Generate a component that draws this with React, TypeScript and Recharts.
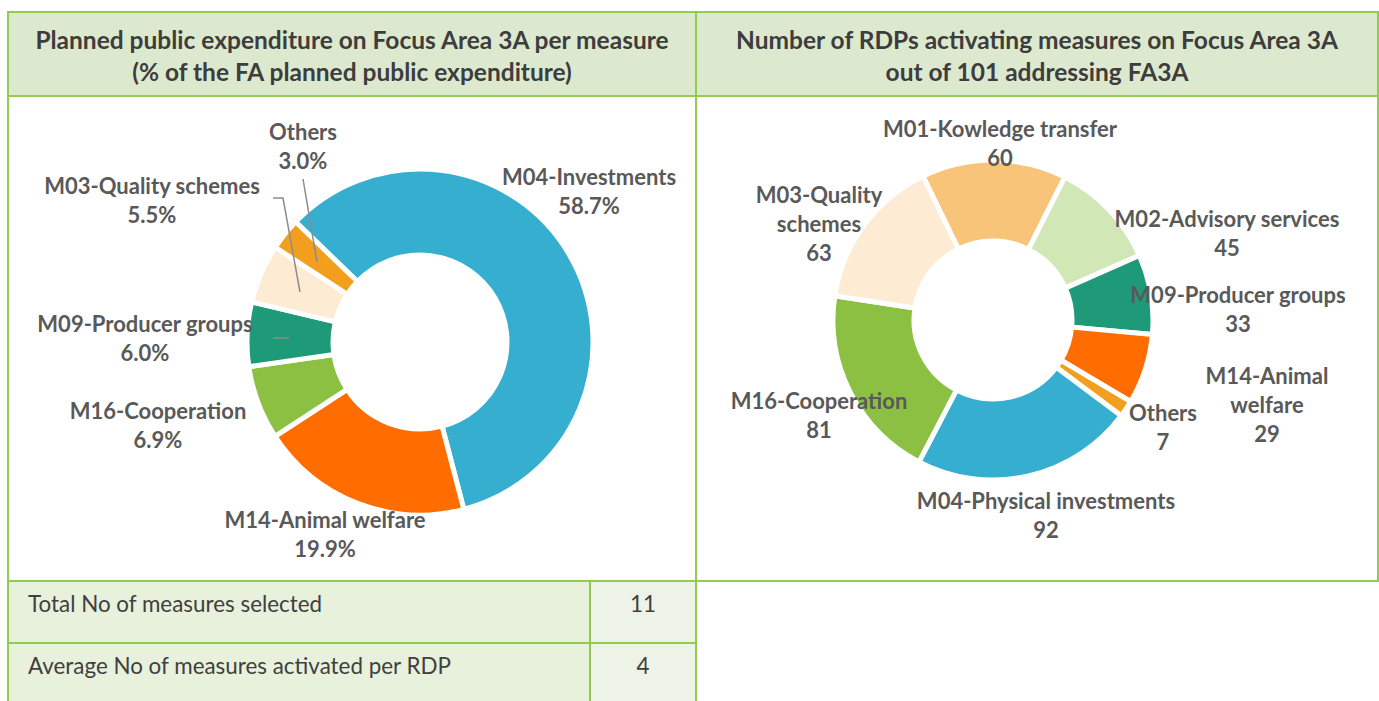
import React from 'react'
import { Pie, PieChart } from 'recharts'

// left donut: share of planned public expenditure (%)
const expNames = ['M04-Investments', 'M14-Animal welfare', 'M16-Cooperation', 'M09-Producer groups', 'M03-Quality schemes', 'Others']
const expValues = [58.7, 19.9, 6.9, 6.0, 5.5, 3.0]
const expColors = ['#36aed0', '#ff6d00', '#8cc043', '#1e9a78', '#fdebd3', '#f29f1d']

// right donut: number of RDPs activating each measure
const rdpNames = ['M01-Kowledge transfer', 'M02-Advisory services', 'M09-Producer groups', 'M14-Animal welfare', 'Others', 'M04-Physical investments', 'M16-Cooperation', 'M03-Quality schemes']
const rdpValues = [60, 45, 33, 29, 7, 92, 81, 63]
const rdpColors = ['#f7c47a', '#d1e7b5', '#1e9a78', '#ff6d00', '#f29f1d', '#36aed0', '#8cc043', '#fdebd3']

const tableLabels = ['Total No of measures selected', 'Average No of measures activated per RDP']
const tableValues = ['11', '4']

const GREEN = '#92cb50'
const LABEL = '#595959'
const FONT = 'Lato, "Open Sans", sans-serif'

const expData = expNames.map((name, i) => ({ name, value: expValues[i], fill: expColors[i] }))
const rdpData = rdpNames.map((name, i) => ({ name, value: rdpValues[i], fill: rdpColors[i] }))

type Spot = { dx: number; dy: number; wrap?: boolean; line?: number[][] }

// label placement (first text line), relative to the donut centre
const expSpots: Record<string, Spot> = {
	'M04-Investments': { dx: 169, dy: -166 },
	'M14-Animal welfare': { dx: -95, dy: 177 },
	'M16-Cooperation': { dx: -262, dy: 68 },
	'M09-Producer groups': { dx: -275, dy: -19, line: [[-147, -4], [-131, -4]] },
	'M03-Quality schemes': { dx: -268, dy: -157, line: [[-147, -144], [-137, -144], [-120, -50]] },
	Others: { dx: -117, dy: -211, line: [[-117, -163], [-103, -80]] },
}

const rdpSpots: Record<string, Spot> = {
	'M01-Kowledge transfer': { dx: 7, dy: -192 },
	'M02-Advisory services': { dx: 234, dy: -102 },
	'M09-Producer groups': { dx: 245, dy: -26 },
	'M14-Animal welfare': { dx: 274, dy: 55, wrap: true },
	Others: { dx: 170, dy: 92 },
	'M04-Physical investments': { dx: 53, dy: 180 },
	'M16-Cooperation': { dx: -174, dy: 80 },
	'M03-Quality schemes': { dx: -174, dy: -126, wrap: true },
}

function makeLabel(spots: Record<string, Spot>, fmt: (v: number) => string) {
	return (props: any) => {
		const { cx, cy, name, value } = props
		const s = spots[name]
		if (!s) return null
		const lines = [...(s.wrap ? name.split(' ') : [name]), fmt(value)]
		const top = cy + s.dy
		return (
			<g>
				{s.line && (
					<polyline
						points={s.line.map((p) => `${cx + p[0]},${cy + p[1]}`).join(' ')}
						fill="none"
						stroke="#8c8c8c"
						strokeWidth={1.5}
					/>
				)}
				{lines.map((t, i) => (
					<text
						key={i}
						x={cx + s.dx}
						y={top + i * 29}
						textAnchor="middle"
						dominantBaseline="central"
						fill={LABEL}
						fontFamily={FONT}
						fontWeight={700}
						fontSize={22}
					>
						{t}
					</text>
				))}
			</g>
		)
	}
}

const box = (l: number, t: number, w: number, h: number, bg: string): React.CSSProperties => ({
	position: 'absolute',
	left: l,
	top: t,
	width: w,
	height: h,
	background: bg,
	border: `2px solid ${GREEN}`,
	boxSizing: 'border-box',
})

const headText: React.CSSProperties = {
	fontFamily: FONT,
	fontWeight: 700,
	fontSize: 24.5,
	color: '#3d3d3d',
	textAlign: 'center',
	lineHeight: '32px',
	paddingTop: 11,
	whiteSpace: 'nowrap',
}

const cellText: React.CSSProperties = {
	fontFamily: FONT,
	fontSize: 22.4,
	color: '#404040',
	lineHeight: '24px',
	paddingTop: 10,
	whiteSpace: 'nowrap',
}

export default function App() {
	return (
		<div style={{ position: 'absolute', left: 0, top: 0, width: 1379, height: 701, background: '#fff', overflow: 'hidden' }}>
			<div style={box(7, 11, 690, 86, '#dde9cf')}>
				<div style={headText}>
					Planned public expenditure on Focus Area 3A per measure
					<br />
					(% of the FA planned public expenditure)
				</div>
			</div>
			<div style={box(695, 11, 684, 86, '#dde9cf')}>
				<div style={headText}>
					Number of RDPs activating measures on Focus Area 3A
					<br />
					out of 101 addressing FA3A
				</div>
			</div>
			<div style={box(7, 95, 690, 487, '#fff')} />
			<div style={box(695, 95, 684, 487, '#fff')} />
			{tableLabels.map((t, i) => (
				<React.Fragment key={t}>
					<div style={box(7, 580 + i * 62, 584, 64, '#e8f1db')}>
						<div style={{ ...cellText, paddingLeft: 19 }}>{t}</div>
					</div>
					<div style={box(589, 580 + i * 62, 108, 64, '#eef3e8')}>
						<div style={{ ...cellText, textAlign: 'center' }}>{tableValues[i]}</div>
					</div>
				</React.Fragment>
			))}
			<div style={{ position: 'absolute', left: 0, top: 0 }}>
				<PieChart width={1379} height={701} margin={{ top: 0, right: 0, bottom: 0, left: 0 }}>
					<Pie
						data={expData}
						dataKey="value"
						nameKey="name"
						cx={420}
						cy={342}
						innerRadius={87}
						outerRadius={173}
						startAngle={136}
						endAngle={-224}
						stroke="#fff"
						strokeWidth={5}
						label={makeLabel(expSpots, (v) => `${v.toFixed(1)}%`)}
						labelLine={false}
						isAnimationActive={false}
					/>
					<Pie
						data={rdpData}
						dataKey="value"
						nameKey="name"
						cx={993}
						cy={320}
						innerRadius={79}
						outerRadius={160}
						startAngle={116}
						endAngle={-244}
						stroke="#fff"
						strokeWidth={5}
						label={makeLabel(rdpSpots, (v) => `${v}`)}
						labelLine={false}
						isAnimationActive={false}
					/>
				</PieChart>
			</div>
		</div>
	)
}
